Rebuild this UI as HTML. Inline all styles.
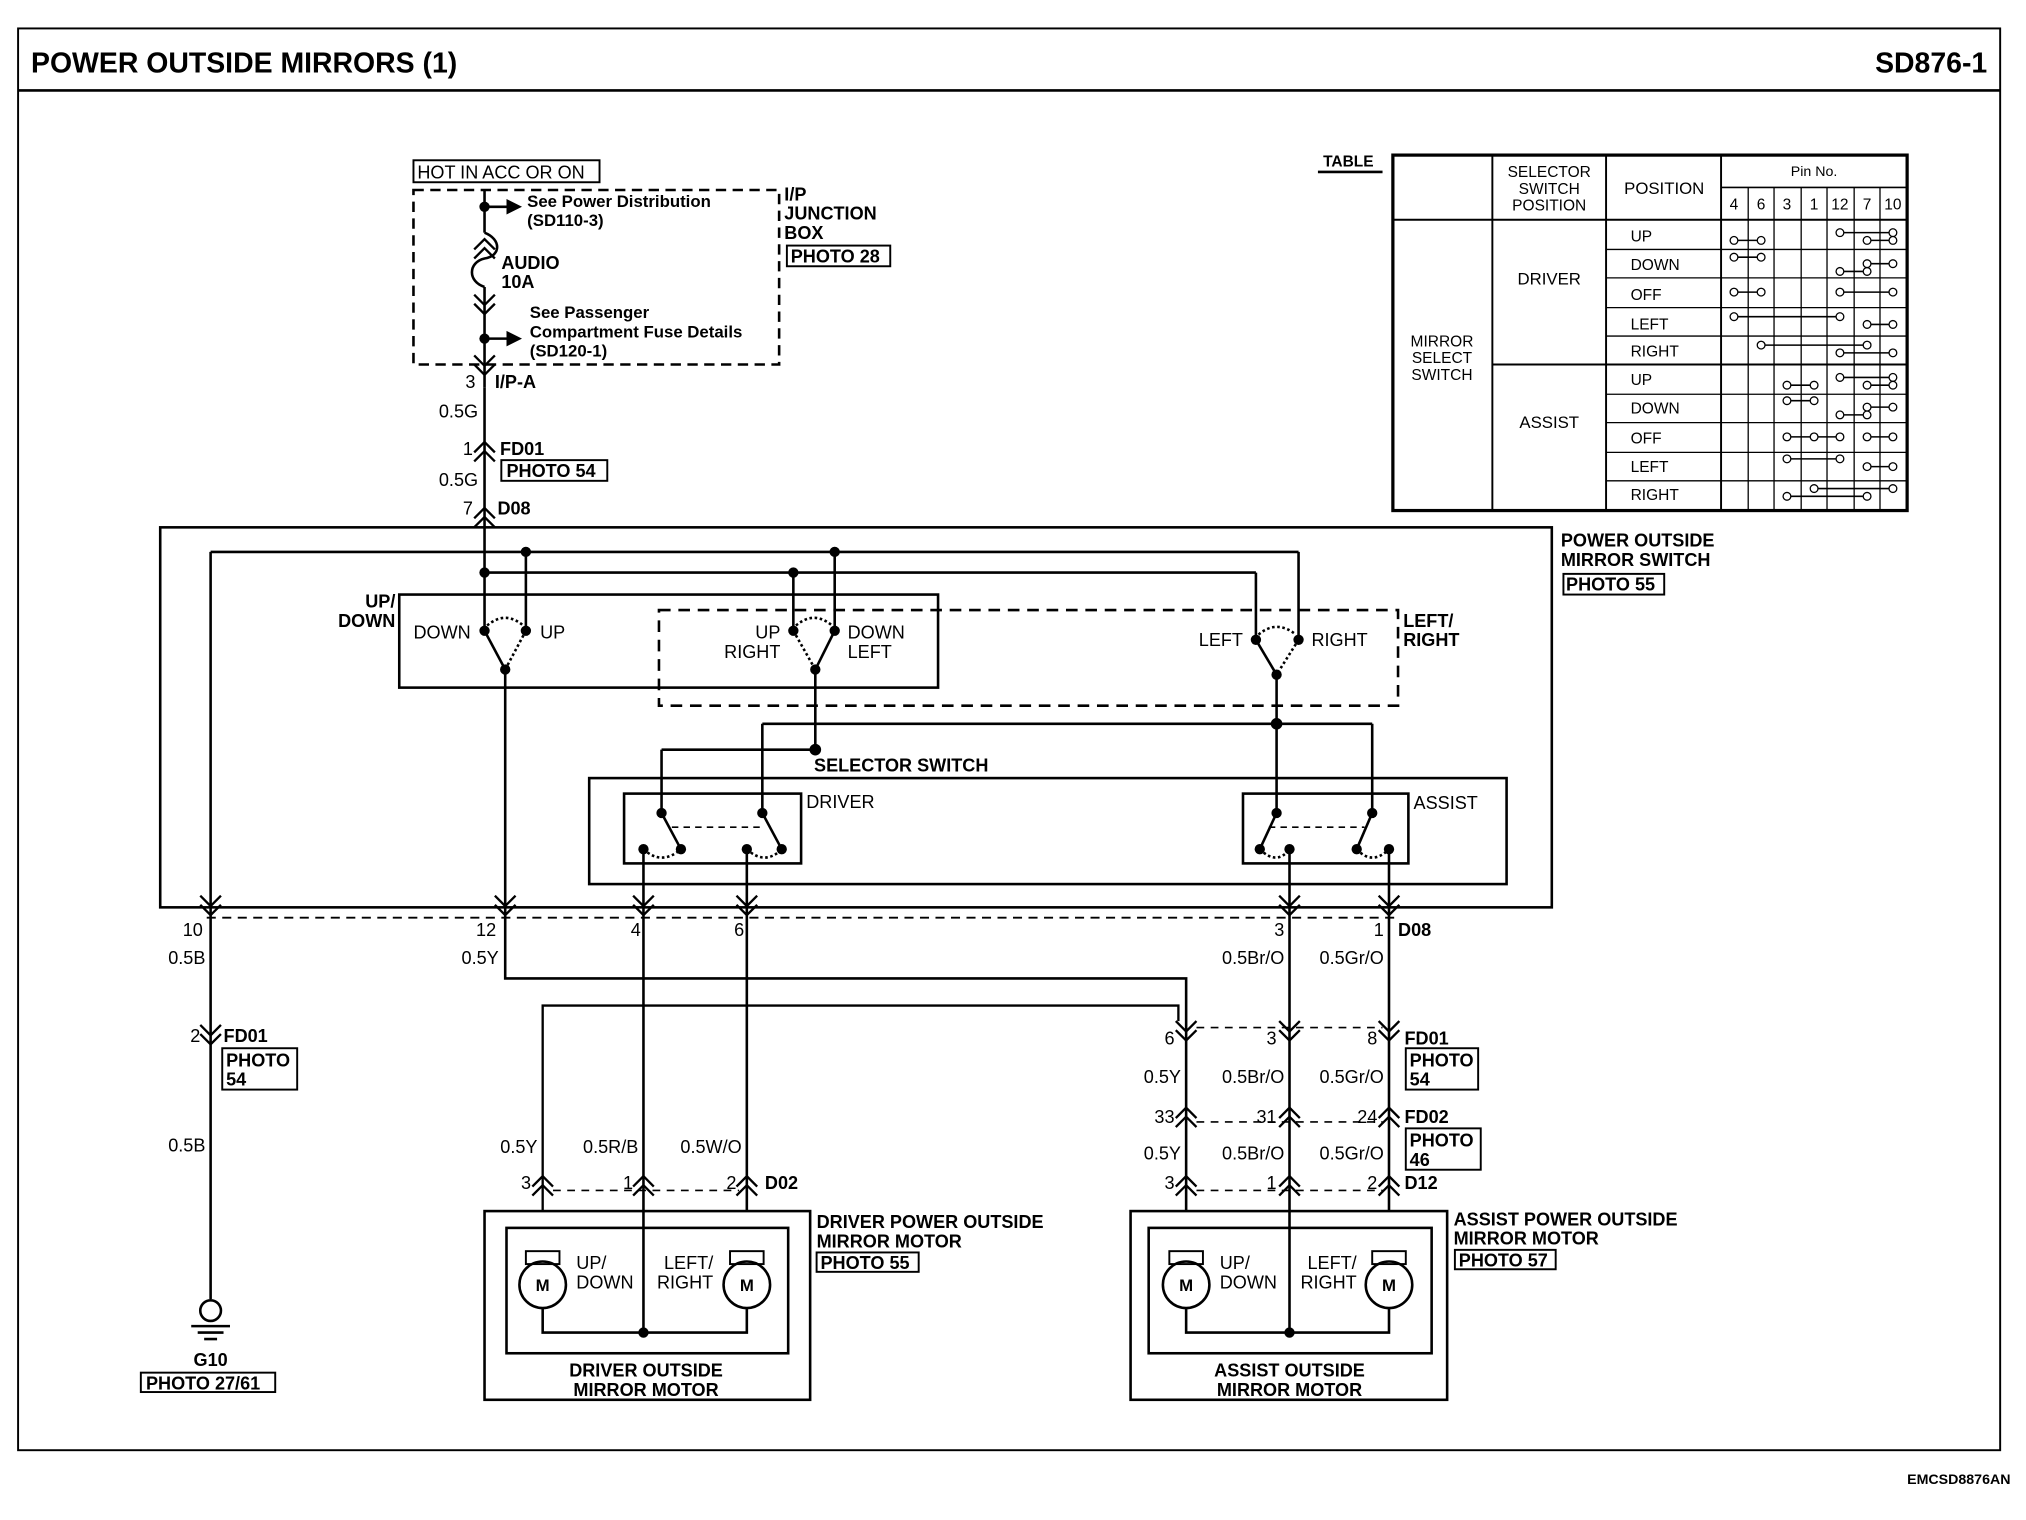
<!DOCTYPE html>
<html><head><meta charset="utf-8"><style>
html,body{margin:0;padding:0;background:#fff;}
svg{display:block;}
text{font-family:"Liberation Sans",sans-serif;fill:#000;}
.b{font-weight:bold;}
</style></head><body>
<svg width="2026" height="1520" viewBox="0 0 1568 1176" preserveAspectRatio="none" xmlns="http://www.w3.org/2000/svg">
<defs>
<path id="cd" d="M-8,-10 L0,-2 L8,-10 M-8,-3 L0,5 L8,-3" fill="none" stroke="#000" stroke-width="1.8"/>
<path id="cu" d="M-8,10 L0,2 L8,10 M-8,3 L0,-5 L8,3" fill="none" stroke="#000" stroke-width="1.8"/>
</defs>
<rect width="1568" height="1176" fill="#fff"/>
<!-- frame -->
<rect x="14" y="22" width="1534" height="1100" fill="none" stroke="#000" stroke-width="1.5"/>
<line x1="14" y1="70" x2="1548" y2="70" stroke="#000" stroke-width="2"/>
<text x="24" y="56" class="b" font-size="22">POWER OUTSIDE MIRRORS (1)</text>
<text x="1538" y="56" class="b" font-size="22" text-anchor="end">SD876-1</text>
<text x="1556" y="1148" class="b" font-size="11" text-anchor="end">EMCSD8876AN</text>

<g fill="none" stroke="#000" stroke-width="2">
<!-- fuse box -->
<rect x="320" y="124" width="144" height="17" stroke-width="1.5"/>
<rect x="320" y="147" width="283" height="135" stroke-dasharray="8,5"/>
<rect x="609" y="190" width="80" height="16" stroke-width="1.5"/>
<line x1="375" y1="147" x2="375" y2="180"/>
<path d="M375,180 C388,185 388,198 375,200 C362,203 362,218 375,222"/>
<line x1="375" y1="222" x2="375" y2="300"/>
<line x1="375" y1="160" x2="392" y2="160"/><line x1="375" y1="262" x2="392" y2="262"/>
<!-- main feed -->
<line x1="375" y1="300" x2="375" y2="443"/>
<rect x="388" y="356" width="82" height="16" stroke-width="1.5"/>
<!-- switch box -->
<rect x="124" y="408" width="1077" height="294"/>
<rect x="1210" y="444" width="78" height="16" stroke-width="1.5"/>
<line x1="163" y1="427" x2="1005" y2="427"/>
<line x1="163" y1="427" x2="163" y2="700"/>
<line x1="375" y1="443" x2="972" y2="443"/>
<line x1="375" y1="443" x2="375" y2="488"/>
<line x1="407" y1="427" x2="407" y2="488"/>
<line x1="614" y1="443" x2="614" y2="488"/>
<line x1="646" y1="427" x2="646" y2="488"/>
<line x1="972" y1="443" x2="972" y2="495"/>
<line x1="1005" y1="427" x2="1005" y2="495"/>
<rect x="309" y="460" width="417" height="72"/>
<rect x="510" y="472" width="572" height="74" stroke-dasharray="9,6"/>
<!-- switch blades -->
<line x1="375" y1="488" x2="391" y2="518"/>
<path d="M407,488 L391,518" stroke-dasharray="2,2"/>
<path d="M377,484 Q391,472 405,484" stroke-dasharray="2,2"/>
<line x1="646" y1="488" x2="631" y2="518"/>
<path d="M614,488 L631,518" stroke-dasharray="2,2"/>
<path d="M616,484 Q630,472 644,484" stroke-dasharray="2,2"/>
<line x1="972" y1="495" x2="988" y2="522"/>
<path d="M1005,495 L988,522" stroke-dasharray="2,2"/>
<path d="M974,491 Q988,479 1003,491" stroke-dasharray="2,2"/>
<line x1="391" y1="518" x2="391" y2="700"/>
<line x1="631" y1="518" x2="631" y2="580"/>
<line x1="988" y1="522" x2="988" y2="558"/>
<line x1="512" y1="580" x2="631" y2="580"/>
<line x1="512" y1="580" x2="512" y2="629"/>
<line x1="590" y1="560" x2="1062" y2="560"/>
<line x1="590" y1="560" x2="590" y2="629"/>
<line x1="1062" y1="560" x2="1062" y2="629"/>
<line x1="988" y1="560" x2="988" y2="629"/>
<!-- selector -->
<rect x="456" y="602" width="710" height="82"/>
<rect x="483" y="614" width="137" height="54"/>
<rect x="962" y="614" width="128" height="54"/>
<line x1="512" y1="629" x2="527" y2="657"/><line x1="590" y1="629" x2="605" y2="657"/>
<line x1="988" y1="629" x2="975" y2="657"/><line x1="1062" y1="629" x2="1050" y2="657"/>
<path d="M520,640 H590" stroke-dasharray="5,4" stroke-width="1.3"/>
<path d="M982,640 H1056" stroke-dasharray="5,4" stroke-width="1.3"/>
<path d="M498,657 Q512,670 527,657" stroke-dasharray="2,2"/>
<path d="M578,657 Q592,670 605,657" stroke-dasharray="2,2"/>
<path d="M975,657 Q988,670 998,657" stroke-dasharray="2,2"/>
<path d="M1050,657 Q1062,670 1075,657" stroke-dasharray="2,2"/>
<line x1="498" y1="657" x2="498" y2="937"/>
<line x1="578" y1="657" x2="578" y2="937"/>
<line x1="998" y1="657" x2="998" y2="937"/>
<line x1="1075" y1="657" x2="1075" y2="937"/>
<!-- harness dashed -->
<line x1="160" y1="710" x2="1080" y2="710" stroke-dasharray="7,5" stroke-width="1.5"/>
<!-- lower wires -->
<line x1="163" y1="700" x2="163" y2="1005"/>
<path d="M391,700 V757 H918 V937"/>
<path d="M420,937 V778 H912 V790" stroke-width="1.8"/>
<!-- connector dashes -->
<path d="M926,795 H1070" stroke-dasharray="6,5" stroke-width="1.3"/>
<path d="M926,868 H1070" stroke-dasharray="6,5" stroke-width="1.3"/>
<path d="M926,921 H1070" stroke-dasharray="6,5" stroke-width="1.3"/>
<path d="M428,921 H572" stroke-dasharray="6,5" stroke-width="1.3"/>
<rect x="172" y="811" width="58" height="32" stroke-width="1.5"/>
<rect x="1088" y="811" width="56" height="32" stroke-width="1.5"/>
<rect x="1088" y="873" width="58" height="32" stroke-width="1.5"/>
<rect x="632" y="969" width="79" height="15" stroke-width="1.5"/>
<rect x="1126" y="967" width="78" height="15" stroke-width="1.5"/>
<rect x="109" y="1062" width="104" height="15" stroke-width="1.5"/>
<!-- motors -->
<rect x="375" y="937" width="252" height="146"/>
<rect x="392" y="950" width="218" height="97"/>
<rect x="875" y="937" width="245" height="146"/>
<rect x="889" y="950" width="219" height="97"/>
<circle cx="420" cy="994" r="18"/><circle cx="578" cy="994" r="18"/>
<circle cx="918" cy="994" r="18"/><circle cx="1075" cy="994" r="18"/>
<rect x="407" y="968" width="26" height="10" stroke-width="1.5"/><rect x="565" y="968" width="26" height="10" stroke-width="1.5"/>
<rect x="905" y="968" width="26" height="10" stroke-width="1.5"/><rect x="1062" y="968" width="26" height="10" stroke-width="1.5"/>
<path d="M420,1012 V1031 H578 V1012"/><line x1="498" y1="937" x2="498" y2="1031"/>
<path d="M918,1012 V1031 H1075 V1012"/><line x1="998" y1="937" x2="998" y2="1031"/>
<!-- ground -->
<circle cx="163" cy="1014" r="8"/>
<line x1="148" y1="1026" x2="178" y2="1026"/><line x1="153" y1="1031" x2="173" y2="1031"/><line x1="158" y1="1036" x2="168" y2="1036"/>
</g>
<!-- arrowheads fuse -->
<polygon points="392,154 404,160 392,166" fill="#000"/>
<polygon points="392,256 404,262 392,268" fill="#000"/>
<!-- dots -->
<g fill="#000">
<circle cx="375" cy="160" r="4"/><circle cx="375" cy="262" r="4"/>
<circle cx="375" cy="443" r="4"/><circle cx="407" cy="427" r="4"/><circle cx="614" cy="443" r="4"/><circle cx="646" cy="427" r="4"/>
<circle cx="375" cy="488" r="4"/><circle cx="407" cy="488" r="4"/><circle cx="391" cy="518" r="4"/>
<circle cx="614" cy="488" r="4"/><circle cx="646" cy="488" r="4"/><circle cx="631" cy="518" r="4"/>
<circle cx="972" cy="495" r="4"/><circle cx="1005" cy="495" r="4"/><circle cx="988" cy="522" r="4"/>
<circle cx="631" cy="580" r="4.5"/><circle cx="988" cy="560" r="4.5"/>
<circle cx="512" cy="629" r="4"/><circle cx="590" cy="629" r="4"/><circle cx="527" cy="657" r="4"/><circle cx="605" cy="657" r="4"/><circle cx="498" cy="657" r="4"/><circle cx="578" cy="657" r="4"/>
<circle cx="988" cy="629" r="4"/><circle cx="1062" cy="629" r="4"/><circle cx="975" cy="657" r="4"/><circle cx="1050" cy="657" r="4"/><circle cx="998" cy="657" r="4"/><circle cx="1075" cy="657" r="4"/>
<circle cx="498" cy="1031" r="4"/><circle cx="998" cy="1031" r="4"/>
</g>
<!-- connectors -->
<use href="#cu" x="375" y="190"/><use href="#cd" x="375" y="238"/><use href="#cd" x="375" y="285"/>
<use href="#cu" x="375" y="347"/><use href="#cu" x="375" y="398"/>
<use href="#cd" x="163" y="703"/><use href="#cd" x="391" y="703"/><use href="#cd" x="498" y="703"/><use href="#cd" x="578" y="703"/><use href="#cd" x="998" y="703"/><use href="#cd" x="1075" y="703"/>
<use href="#cd" x="163" y="803"/>
<use href="#cd" x="918" y="800"/><use href="#cd" x="998" y="800"/><use href="#cd" x="1075" y="800"/>
<use href="#cu" x="918" y="862"/><use href="#cu" x="998" y="862"/><use href="#cu" x="1075" y="862"/>
<use href="#cu" x="918" y="915"/><use href="#cu" x="998" y="915"/><use href="#cu" x="1075" y="915"/>
<use href="#cu" x="420" y="915"/><use href="#cu" x="498" y="915"/><use href="#cu" x="578" y="915"/>

<!-- texts -->
<g font-size="14">
<text x="323" y="138">HOT IN ACC OR ON</text>
<text x="408" y="160" font-size="13" class="b">See Power Distribution</text>
<text x="408" y="175" font-size="13" class="b">(SD110-3)</text>
<text x="388" y="208" class="b">AUDIO</text><text x="388" y="223" class="b">10A</text>
<text x="410" y="246" font-size="13" class="b">See Passenger</text>
<text x="410" y="261" font-size="13" class="b">Compartment Fuse Details</text>
<text x="410" y="276" font-size="13" class="b">(SD120-1)</text>
<text x="607" y="155" class="b">I/P</text><text x="607" y="170" class="b">JUNCTION</text><text x="607" y="185" class="b">BOX</text>
<text x="612" y="203" class="b">PHOTO 28</text>
<text x="368" y="300" text-anchor="end">3</text><text x="383" y="300" class="b">I/P-A</text>
<text x="370" y="323" text-anchor="end">0.5G</text>
<text x="366" y="352" text-anchor="end">1</text><text x="387" y="352" class="b">FD01</text>
<text x="392" y="369" class="b">PHOTO 54</text>
<text x="370" y="376" text-anchor="end">0.5G</text>
<text x="366" y="398" text-anchor="end">7</text><text x="385" y="398" class="b">D08</text>
<text x="1208" y="423" class="b">POWER OUTSIDE</text><text x="1208" y="438" class="b">MIRROR SWITCH</text>
<text x="1212" y="457" class="b">PHOTO 55</text>
<text x="306" y="470" text-anchor="end" class="b">UP/</text><text x="306" y="485" text-anchor="end" class="b">DOWN</text>
<text x="320" y="494">DOWN</text><text x="418" y="494">UP</text>
<text x="604" y="494" text-anchor="end">UP</text><text x="604" y="509" text-anchor="end">RIGHT</text>
<text x="656" y="494">DOWN</text><text x="656" y="509">LEFT</text>
<text x="962" y="500" text-anchor="end">LEFT</text><text x="1015" y="500">RIGHT</text>
<text x="1086" y="485" class="b">LEFT/</text><text x="1086" y="500" class="b">RIGHT</text>
<text x="630" y="597" class="b">SELECTOR SWITCH</text>
<text x="624" y="625">DRIVER</text><text x="1094" y="626">ASSIST</text>
<text x="157" y="724" text-anchor="end">10</text><text x="384" y="724" text-anchor="end">12</text>
<text x="496" y="724" text-anchor="end">4</text><text x="576" y="724" text-anchor="end">6</text>
<text x="994" y="724" text-anchor="end">3</text><text x="1071" y="724" text-anchor="end">1</text><text x="1082" y="724" class="b">D08</text>
<text x="159" y="746" text-anchor="end">0.5B</text><text x="386" y="746" text-anchor="end">0.5Y</text>
<text x="994" y="746" text-anchor="end">0.5Br/O</text><text x="1071" y="746" text-anchor="end">0.5Gr/O</text>
<text x="155" y="806" text-anchor="end">2</text><text x="173" y="806" class="b">FD01</text>
<text x="175" y="825" class="b">PHOTO</text><text x="175" y="840" class="b">54</text>
<text x="159" y="891" text-anchor="end">0.5B</text>
<text x="909" y="808" text-anchor="end">6</text><text x="988" y="808" text-anchor="end">3</text><text x="1066" y="808" text-anchor="end">8</text><text x="1087" y="808" class="b">FD01</text>
<text x="1091" y="825" class="b">PHOTO</text><text x="1091" y="840" class="b">54</text>
<text x="914" y="838" text-anchor="end">0.5Y</text><text x="994" y="838" text-anchor="end">0.5Br/O</text><text x="1071" y="838" text-anchor="end">0.5Gr/O</text>
<text x="909" y="869" text-anchor="end">33</text><text x="988" y="869" text-anchor="end">31</text><text x="1066" y="869" text-anchor="end">24</text><text x="1087" y="869" class="b">FD02</text>
<text x="1091" y="887" class="b">PHOTO</text><text x="1091" y="902" class="b">46</text>
<text x="914" y="897" text-anchor="end">0.5Y</text><text x="994" y="897" text-anchor="end">0.5Br/O</text><text x="1071" y="897" text-anchor="end">0.5Gr/O</text>
<text x="909" y="920" text-anchor="end">3</text><text x="988" y="920" text-anchor="end">1</text><text x="1066" y="920" text-anchor="end">2</text><text x="1087" y="920" class="b">D12</text>
<text x="416" y="892" text-anchor="end">0.5Y</text><text x="494" y="892" text-anchor="end">0.5R/B</text><text x="574" y="892" text-anchor="end">0.5W/O</text>
<text x="411" y="920" text-anchor="end">3</text><text x="490" y="920" text-anchor="end">1</text><text x="570" y="920" text-anchor="end">2</text><text x="592" y="920" class="b">D02</text>
<text x="632" y="950" class="b">DRIVER POWER OUTSIDE</text><text x="632" y="965" class="b">MIRROR MOTOR</text>
<text x="635" y="982" class="b">PHOTO 55</text>
<text x="1125" y="948" class="b">ASSIST POWER OUTSIDE</text><text x="1125" y="963" class="b">MIRROR  MOTOR</text>
<text x="1129" y="980" class="b">PHOTO 57</text>
<text x="446" y="982">UP/</text><text x="446" y="997">DOWN</text><text x="552" y="982" text-anchor="end">LEFT/</text><text x="552" y="997" text-anchor="end">RIGHT</text>
<text x="944" y="982">UP/</text><text x="944" y="997">DOWN</text><text x="1050" y="982" text-anchor="end">LEFT/</text><text x="1050" y="997" text-anchor="end">RIGHT</text>
<text x="420" y="999" text-anchor="middle" class="b" font-size="13">M</text><text x="578" y="999" text-anchor="middle" class="b" font-size="13">M</text>
<text x="918" y="999" text-anchor="middle" class="b" font-size="13">M</text><text x="1075" y="999" text-anchor="middle" class="b" font-size="13">M</text>
<text x="500" y="1065" text-anchor="middle" class="b">DRIVER OUTSIDE</text><text x="500" y="1080" text-anchor="middle" class="b">MIRROR MOTOR</text>
<text x="998" y="1065" text-anchor="middle" class="b">ASSIST OUTSIDE</text><text x="998" y="1080" text-anchor="middle" class="b">MIRROR MOTOR</text>
<text x="163" y="1057" text-anchor="middle" class="b">G10</text>
<text x="113" y="1075" class="b">PHOTO 27/61</text>
</g>

<!-- TABLE -->
<text x="1024" y="129" class="b" font-size="12">TABLE</text>
<line x1="1020" y1="133" x2="1070" y2="133" stroke="#000" stroke-width="2"/>
<g fill="none" stroke="#000">
<rect x="1078" y="120" width="398" height="275" stroke-width="2.5"/>
<line x1="1078" y1="170" x2="1476" y2="170" stroke-width="1.5"/>
<line x1="1155" y1="120" x2="1155" y2="395" stroke-width="1.5"/>
<line x1="1243" y1="120" x2="1243" y2="395" stroke-width="1.5"/>
<line x1="1332" y1="120" x2="1332" y2="395" stroke-width="1.5"/>
<line x1="1332" y1="145" x2="1476" y2="145" stroke-width="1.2"/>
<line x1="1155" y1="282" x2="1476" y2="282" stroke-width="1.5"/>
<g stroke-width="1">
<line x1="1353" y1="145" x2="1353" y2="395"/><line x1="1373" y1="145" x2="1373" y2="395"/><line x1="1394" y1="145" x2="1394" y2="395"/><line x1="1414" y1="145" x2="1414" y2="395"/><line x1="1435" y1="145" x2="1435" y2="395"/><line x1="1455" y1="145" x2="1455" y2="395"/>
<line x1="1243" y1="193" x2="1476" y2="193"/><line x1="1243" y1="215" x2="1476" y2="215"/><line x1="1243" y1="238" x2="1476" y2="238"/><line x1="1243" y1="260" x2="1476" y2="260"/>
<line x1="1243" y1="305" x2="1476" y2="305"/><line x1="1243" y1="327" x2="1476" y2="327"/><line x1="1243" y1="350" x2="1476" y2="350"/><line x1="1243" y1="372" x2="1476" y2="372"/>
</g>
<g stroke-width="1.2">
<!-- contacts: rows y centers -->
<path d="M1342,186H1363M1424,180H1465M1445,186H1465"/>
<path d="M1342,199H1363M1424,210H1445M1445,204H1465"/>
<path d="M1342,226H1363M1424,226H1465"/>
<path d="M1342,245H1424M1445,251H1465"/>
<path d="M1363,267H1445M1424,273H1465"/>
<path d="M1383,298H1404M1424,292H1465M1445,298H1465"/>
<path d="M1383,310H1404M1424,321H1445M1445,315H1465"/>
<path d="M1383,338H1404M1404,338H1424M1445,338H1465"/>
<path d="M1383,355H1424M1445,361H1465"/>
<path d="M1383,384H1445M1404,378H1465"/>
</g>
<g stroke-width="1" fill="#fff">
<circle cx="1342" cy="186" r="3"/><circle cx="1363" cy="186" r="3"/><circle cx="1424" cy="180" r="3"/><circle cx="1465" cy="180" r="3"/><circle cx="1445" cy="186" r="3"/><circle cx="1465" cy="186" r="3"/>
<circle cx="1342" cy="199" r="3"/><circle cx="1363" cy="199" r="3"/><circle cx="1424" cy="210" r="3"/><circle cx="1445" cy="210" r="3"/><circle cx="1445" cy="204" r="3"/><circle cx="1465" cy="204" r="3"/>
<circle cx="1342" cy="226" r="3"/><circle cx="1363" cy="226" r="3"/><circle cx="1424" cy="226" r="3"/><circle cx="1465" cy="226" r="3"/>
<circle cx="1342" cy="245" r="3"/><circle cx="1424" cy="245" r="3"/><circle cx="1445" cy="251" r="3"/><circle cx="1465" cy="251" r="3"/>
<circle cx="1363" cy="267" r="3"/><circle cx="1445" cy="267" r="3"/><circle cx="1424" cy="273" r="3"/><circle cx="1465" cy="273" r="3"/>
<circle cx="1383" cy="298" r="3"/><circle cx="1404" cy="298" r="3"/><circle cx="1424" cy="292" r="3"/><circle cx="1465" cy="292" r="3"/><circle cx="1445" cy="298" r="3"/><circle cx="1465" cy="298" r="3"/>
<circle cx="1383" cy="310" r="3"/><circle cx="1404" cy="310" r="3"/><circle cx="1424" cy="321" r="3"/><circle cx="1445" cy="321" r="3"/><circle cx="1445" cy="315" r="3"/><circle cx="1465" cy="315" r="3"/>
<circle cx="1383" cy="338" r="3"/><circle cx="1404" cy="338" r="3"/><circle cx="1424" cy="338" r="3"/><circle cx="1445" cy="338" r="3"/><circle cx="1465" cy="338" r="3"/>
<circle cx="1383" cy="355" r="3"/><circle cx="1424" cy="355" r="3"/><circle cx="1445" cy="361" r="3"/><circle cx="1465" cy="361" r="3"/>
<circle cx="1383" cy="384" r="3"/><circle cx="1445" cy="384" r="3"/><circle cx="1404" cy="378" r="3"/><circle cx="1465" cy="378" r="3"/>
</g>
</g>
<g font-size="12">
<text x="1199" y="137" text-anchor="middle">SELECTOR</text><text x="1199" y="150" text-anchor="middle">SWITCH</text><text x="1199" y="163" text-anchor="middle">POSITION</text>
<text x="1288" y="150" text-anchor="middle" font-size="13">POSITION</text>
<text x="1404" y="136" text-anchor="middle" font-size="11">Pin No.</text>
<text x="1342" y="162" text-anchor="middle">4</text><text x="1363" y="162" text-anchor="middle">6</text><text x="1383" y="162" text-anchor="middle">3</text><text x="1404" y="162" text-anchor="middle">1</text><text x="1424" y="162" text-anchor="middle">12</text><text x="1445" y="162" text-anchor="middle">7</text><text x="1465" y="162" text-anchor="middle">10</text>
<text x="1116" y="268" text-anchor="middle">MIRROR</text><text x="1116" y="281" text-anchor="middle">SELECT</text><text x="1116" y="294" text-anchor="middle">SWITCH</text>
<text x="1199" y="220" text-anchor="middle" font-size="13">DRIVER</text>
<text x="1199" y="331" text-anchor="middle" font-size="13">ASSIST</text>
<text x="1262" y="187">UP</text><text x="1262" y="209">DOWN</text><text x="1262" y="232">OFF</text><text x="1262" y="255">LEFT</text><text x="1262" y="276">RIGHT</text>
<text x="1262" y="298">UP</text><text x="1262" y="320">DOWN</text><text x="1262" y="343">OFF</text><text x="1262" y="365">LEFT</text><text x="1262" y="387">RIGHT</text>
</g>
</svg>
</body></html>
